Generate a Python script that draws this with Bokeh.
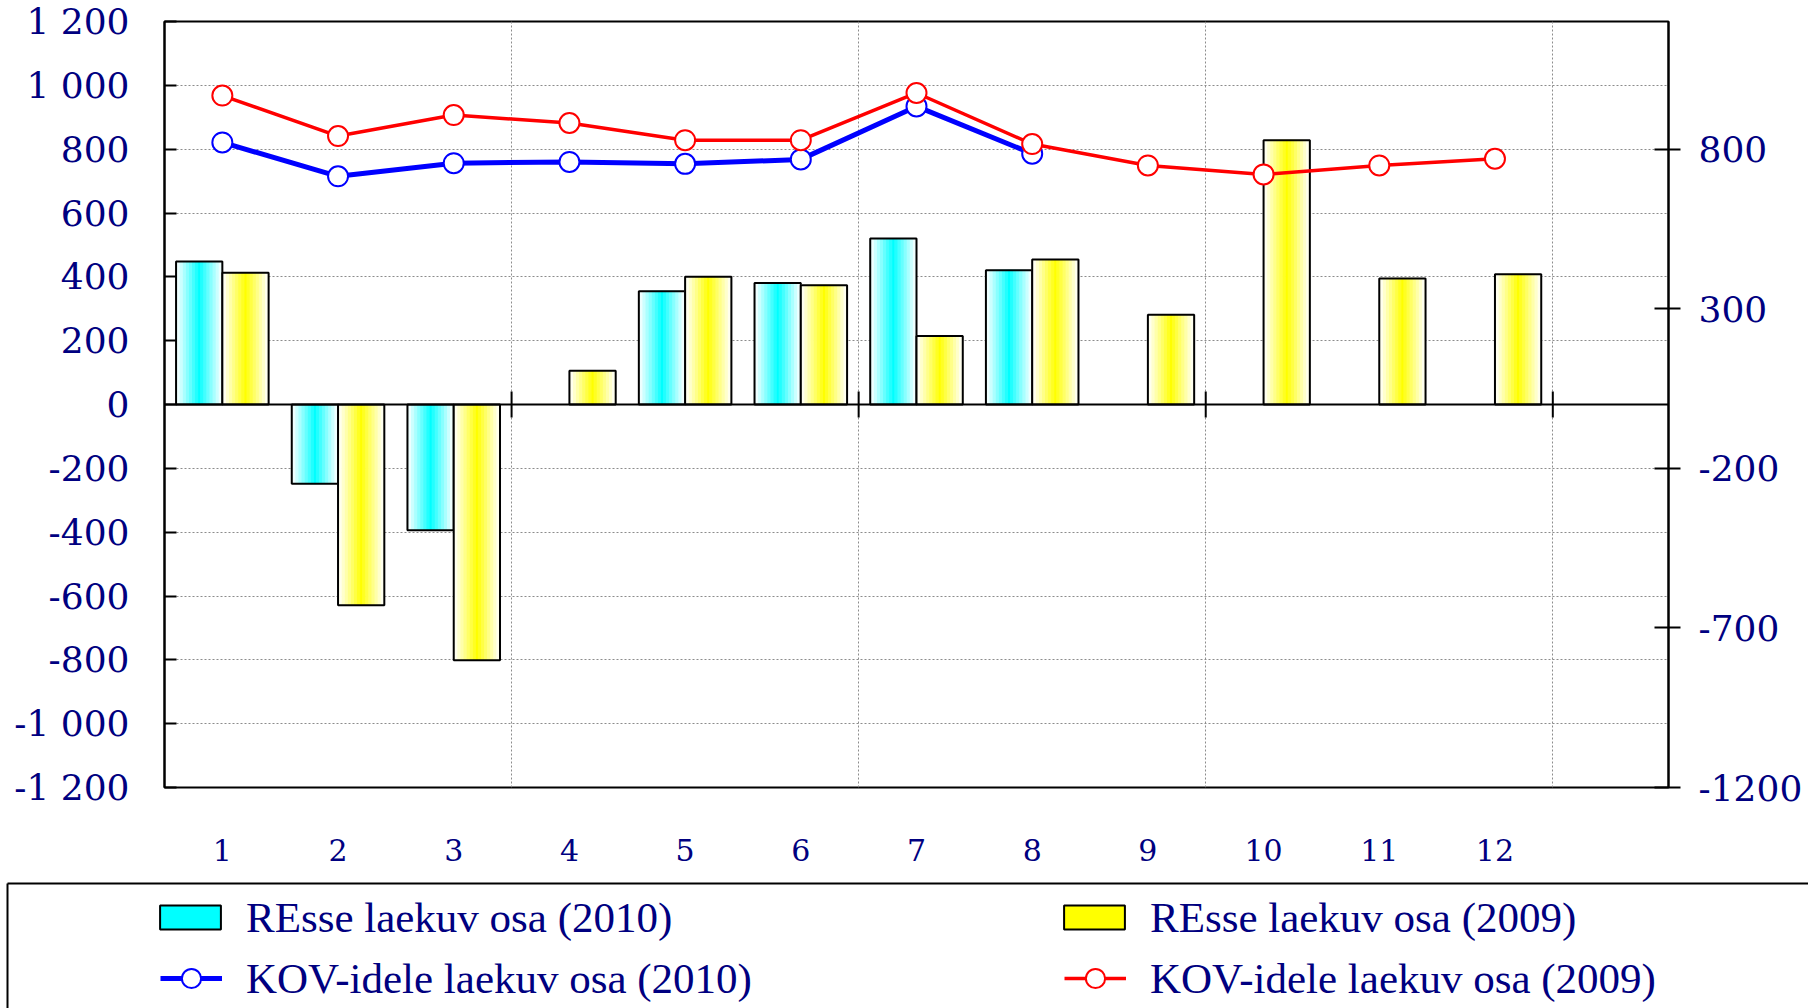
import numpy as np
from bokeh.plotting import figure
from bokeh.models import (Range1d, LinearAxis, FixedTicker, ColumnDataSource,
                          Legend, LegendItem, Span)
from bokeh.embed import file_html
from bokeh.resources import INLINE

nan = float("nan")

# ---------------- data ----------------
months = list(range(1, 13))
resse_2010 = [448, -248, -394, nan, 355, 381, 520, 421, nan, nan, nan, nan]
resse_2009 = [413, -629, -801, 106, 400, 374, 215, 454, 281, 828, 395, 408]
kov_2010 = [821, 715, 756, 760, 754, 768, 934, 786, nan, nan, nan, nan]
kov_2009 = [968, 841, 907, 882, 828, 828, 976, 816, 749, 721, 749, 770]
left_ticks = list(range(-1200, 1201, 200))
right_ticks = [-1200, -700, -200, 300, 800]
group_bounds = [3.5, 6.5, 9.5, 12.5]
labels = ["REsse laekuv osa (2010)", "REsse laekuv osa (2009)",
          "KOV-idele laekuv osa (2010)", "KOV-idele laekuv osa (2009)"]

NAVY = "#000080"
TICK_FONT = "DejaVu Serif"
LEG_FONT = "Liberation Serif"
BLUE, RED = "#0000ff", "#ff0000"

W = 1808
p = figure(width=W, height=882, x_range=Range1d(0.5, 13.5),
           y_range=Range1d(-1200, 1200), output_backend="svg",
           toolbar_location=None, min_border_left=164, min_border_right=W - 1668,
           min_border_top=21, min_border_bottom=95)
p.background_fill_color = "white"
p.border_fill_color = "white"
p.outline_line_color = "black"
p.outline_line_width = 2

# grids
p.xgrid.ticker = FixedTicker(ticks=group_bounds)
p.ygrid.ticker = FixedTicker(ticks=left_ticks)
for g in (p.xgrid[0], p.ygrid[0]):
    g.grid_line_color = "#8c8c8c"
    g.grid_line_dash = "2 2"
    g.grid_line_width = 1

# left axis
ya = p.yaxis[0]
ya.ticker = FixedTicker(ticks=left_ticks)
ya.major_label_overrides = {t: f"{t:,}".replace(",", " ") for t in left_ticks}
ya.major_tick_in = 12
ya.major_tick_out = 0
ya.major_tick_line_width = 2
ya.minor_tick_line_color = None
ya.axis_line_width = 2
ya.major_label_standoff = 35
ya.major_label_text_font = TICK_FONT
ya.major_label_text_font_size = "36px"
ya.major_label_text_color = NAVY

# right axis
ra = LinearAxis(ticker=FixedTicker(ticks=right_ticks))
ra.major_label_overrides = {t: str(t) for t in right_ticks}
ra.major_tick_in = 14
ra.major_tick_out = 12
ra.major_tick_line_width = 2
ra.minor_tick_line_color = None
ra.axis_line_width = 2
ra.major_label_standoff = 18
ra.major_label_text_font = TICK_FONT
ra.major_label_text_font_size = "36px"
ra.major_label_text_color = NAVY
p.add_layout(ra, "right")

# x axis (labels only)
xa = p.xaxis[0]
xa.ticker = FixedTicker(ticks=months)
xa.axis_line_color = None
xa.major_tick_line_color = None
xa.minor_tick_line_color = None
xa.major_label_standoff = 45
xa.major_label_text_font = TICK_FONT
xa.major_label_text_font_size = "30px"
xa.major_label_text_color = NAVY

# ---------------- gradient bars ----------------
BAR_W = 0.4
N = 15


def strip_source(vals, offset, rgb):
    t = (np.arange(N) + 0.5) / N
    mix = 1 - np.abs(2 * t - 1)
    order = np.argsort(-mix, kind="stable")
    xs, tops, cols = [], [], []
    for k in order:
        r, g, b = [int(round(255 + (c - 255) * mix[k])) for c in rgb]
        col = "#%02x%02x%02x" % (r, g, b)
        for m, v in zip(months, vals):
            if np.isnan(v):
                continue
            xs.append(m + offset - BAR_W / 2 + (k + 0.5) * BAR_W / N)
            tops.append(v)
            cols.append(col)
    return ColumnDataSource(dict(x=xs, top=tops, color=cols))


def outline_source(vals, offset):
    xs = [m + offset for m, v in zip(months, vals) if not np.isnan(v)]
    ts = [v for v in vals if not np.isnan(v)]
    return ColumnDataSource(dict(x=xs, top=ts))


bar_src = {}
for key, vals, off, rgb in (("2010", resse_2010, -0.2, (0, 255, 255)),
                            ("2009", resse_2009, 0.2, (255, 255, 0))):
    bar_src[key] = (strip_source(vals, off, rgb), outline_source(vals, off))


def draw_bars(fig, key):
    s_src, o_src = bar_src[key]
    s = fig.vbar(x="x", top="top", bottom=0, width=BAR_W / N, source=s_src,
                 fill_color="color", line_color="color", line_width=1)
    o = fig.vbar(x="x", top="top", bottom=0, width=BAR_W, source=o_src,
                 fill_color=None, line_color="black", line_width=2)
    return [s, o]


def draw_line(fig, vals, color, lw):
    ln = fig.line(months, vals, line_color=color, line_width=lw)
    sc = fig.scatter(months, vals, size=20, fill_color="white", line_color=color, line_width=2)
    return [ln, sc]


draw_bars(p, "2010")
draw_bars(p, "2009")

# zero line and group ticks
p.add_layout(Span(location=0, dimension="width", line_color="black", line_width=2))
p.scatter(x=group_bounds, y=[0] * len(group_bounds), marker="dash", angle=np.pi / 2,
          size=26, line_color="black", line_width=2)

draw_line(p, kov_2010, BLUE, 5)
draw_line(p, kov_2009, RED, 3.5)

# ---------------- legend panel (separate figure; its top/left axis lines form the box) ----------------
lf = figure(width=W, height=126, x_range=Range1d(-50, -49), y_range=Range1d(-5000, -4999),
            x_axis_location="above", y_axis_location="left", output_backend="svg",
            toolbar_location=None, min_border_left=7, min_border_top=1,
            min_border_right=0, min_border_bottom=0)
lf.outline_line_color = None
lf.grid.visible = False
lf.background_fill_color = "white"
lf.border_fill_color = "white"
for ax in (lf.xaxis[0], lf.yaxis[0]):
    ax.ticker = FixedTicker(ticks=[])
    ax.axis_line_color = "black"
    ax.axis_line_width = 2
    ax.major_tick_line_color = None
    ax.minor_tick_line_color = None

r_b10 = draw_bars(lf, "2010")
r_b09 = draw_bars(lf, "2009")
r_l10 = draw_line(lf, kov_2010, BLUE, 5)
r_l09 = draw_line(lf, kov_2009, RED, 3.5)

common = dict(orientation="horizontal", ncols=2, label_height=50, spacing=12,
              padding=0, margin=0, border_line_color=None, background_fill_alpha=0,
              label_text_font=LEG_FONT, label_text_font_size="43px",
              label_text_color=NAVY)

leg_bars = Legend(items=[LegendItem(label=labels[0], renderers=r_b10, index=0),
                         LegendItem(label=labels[1], renderers=r_b09, index=0)],
                  location=(145, 66), glyph_width=76, glyph_height=30,
                  label_width=798, label_standoff=18, **common)
leg_lines = Legend(items=[LegendItem(label=labels[2], renderers=r_l10),
                          LegendItem(label=labels[3], renderers=r_l09)],
                   location=(153, 5), glyph_width=62, glyph_height=48,
                   label_width=806, label_standoff=24, **common)
lf.add_layout(leg_bars, "center")
lf.add_layout(leg_lines, "center")

open("out.html", "w").write(file_html([p, lf], INLINE))
